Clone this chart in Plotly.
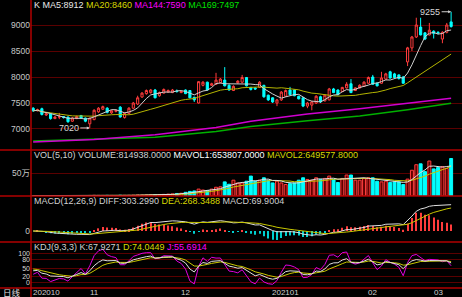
import plotly.graph_objects as go
from plotly.subplots import make_subplots
import pandas as pd

# ---------------- data ----------------
oct_days = [13, 14, 15, 16, 19, 20, 21, 22, 23, 26, 27, 28, 29, 30]
nov_days = [2, 3, 4, 5, 6, 9, 10, 11, 12, 13, 16, 17, 18, 19, 20, 23, 24, 25, 26, 27, 30]
dec_days = [1, 2, 3, 4, 7, 8, 9, 10, 11, 14, 15, 16, 17, 18, 21, 22, 23, 24, 25, 28, 29, 30, 31]
jan_days = [4, 5, 6, 7, 8, 11, 12, 13, 14, 15, 18, 19, 20, 21, 22, 25, 26, 27, 28, 29]
feb_days = [1, 2, 3, 4, 5, 8, 9, 10, 18, 19, 22, 23, 24, 25, 26]
mar_days = [1, 2, 3, 4]

opens = [7400, 7350, 7390, 7270, 7290, 7200, 7230, 7240, 7230, 7150,
         7200, 7260, 7210, 7100, 7180, 7330, 7380, 7400, 7310, 7340,
         7420, 7220, 7300, 7400, 7480, 7615, 7680, 7700, 7750, 7640,
         7690, 7710, 7700, 7730, 7700, 7750, 7740, 7610, 7500, 7840,
         7900, 7840, 7860, 7890, 7940, 7840, 7740, 7890, 7900, 7990,
         7800, 7790, 7800, 7840, 7650, 7600, 7500, 7560, 7630, 7750,
         7750, 7630, 7600, 7440, 7460, 7500, 7620, 7540, 7560, 7770,
         7750, 7720, 7790, 7870, 7740, 7790, 7820, 7880, 8000, 7880,
         7880, 7960, 8100, 8060, 8040, 8000, 8290, 8560, 8770, 8960,
         8850, 8810, 8880, 8860, 8730, 8860, 9060]
highs = [7420, 7390, 7410, 7310, 7300, 7250, 7310, 7250, 7240, 7230,
         7260, 7270, 7220, 7220, 7380, 7420, 7450, 7420, 7370, 7380,
         7440, 7320, 7420, 7520, 7640, 7710, 7760, 7770, 7770, 7720,
         7780, 7760, 7770, 7760, 7740, 7760, 7750, 7620, 7920, 7920,
         7910, 7890, 8080, 7980, 8190, 7860, 7840, 7940, 8040, 8000,
         7810, 7800, 7920, 7850, 7660, 7610, 7580, 7730, 7760, 7810,
         7760, 7640, 7610, 7520, 7540, 7650, 7640, 7670, 7790, 7790,
         7760, 7810, 7900, 7960, 7800, 7860, 7920, 8010, 8040, 7900,
         8100, 8080, 8120, 8080, 8050, 8020, 8580, 8790, 9140, 9140,
         8860, 9040, 8900, 8880, 8880, 9040, 9255]
lows = [7330, 7340, 7260, 7250, 7180, 7190, 7190, 7200, 7120, 7140,
        7190, 7200, 7130, 7020, 7170, 7310, 7370, 7300, 7290, 7320,
        7220, 7200, 7290, 7380, 7460, 7600, 7660, 7680, 7590, 7620,
        7680, 7700, 7690, 7700, 7690, 7670, 7590, 7520, 7490, 7820,
        7740, 7830, 7850, 7880, 7820, 7740, 7730, 7870, 7880, 7820,
        7740, 7750, 7790, 7600, 7540, 7500, 7440, 7540, 7620, 7650,
        7630, 7570, 7420, 7400, 7360, 7480, 7500, 7530, 7550, 7690,
        7650, 7710, 7780, 7690, 7730, 7780, 7810, 7870, 7850, 7820,
        7870, 7950, 7970, 7980, 7950, 7870, 8210, 8500, 8750, 8800,
        8710, 8800, 8740, 8820, 8650, 8840, 8950]
closes = [7350, 7370, 7280, 7290, 7200, 7230, 7235, 7220, 7140, 7210,
          7240, 7210, 7150, 7210, 7360, 7400, 7430, 7320, 7350, 7355,
          7230, 7300, 7400, 7500, 7600, 7690, 7740, 7750, 7600, 7700,
          7760, 7740, 7750, 7720, 7720, 7680, 7600, 7560, 7910, 7900,
          7750, 7870, 7940, 7960, 7830, 7750, 7820, 7920, 7990, 7830,
          7760, 7770, 7900, 7620, 7560, 7520, 7560, 7710, 7740, 7660,
          7640, 7580, 7440, 7500, 7520, 7630, 7520, 7650, 7770, 7700,
          7660, 7800, 7860, 7700, 7790, 7840, 7900, 7990, 7860, 7830,
          7980, 8060, 7980, 7990, 7970, 7880, 8560, 8770, 9000, 8810,
          8730, 8900, 8840, 8850, 8860, 9000, 8970]
volumes = [9000, 8000, 10000, 7000, 9000, 8000, 7000, 8000, 10000, 9000,
           8000, 9000, 10000, 12000, 15000, 13000, 12000, 14000, 12000, 11000,
           16000, 14000, 15000, 18000, 22000, 20000, 22000, 25000, 30000, 30000,
           35000, 40000, 45000, 55000, 60000, 80000, 100000, 110000, 150000, 130000,
           120000, 150000, 190000, 200000, 307000, 256000, 344000, 284000, 284000, 322000,
           433000, 322000, 344000, 396000, 344000, 284000, 322000, 284000, 249000, 270000,
           284000, 344000, 396000, 360000, 344000, 396000, 360000, 382000, 433000, 360000,
           293000, 382000, 456000, 456000, 344000, 344000, 382000, 396000, 396000, 322000,
           307000, 322000, 293000, 307000, 307000, 249000, 367000, 560000, 680000, 700000,
           530000, 760000, 589000, 618000, 640000, 600000, 814938]

# long moving averages (history not shown) read at a few dates
ma_long_idx = [0, 14, 28, 42, 50, 63, 75, 86, 96]
ma144_vals = [6750, 6800, 6890, 7030, 7150, 7290, 7390, 7490, 7590]
ma169_vals = [6770, 6800, 6840, 6950, 7050, 7160, 7250, 7370, 7497]

month_text = ["202010", "11", "12", "202101", "02", "03"]

# header texts as shown
hdr_main = [("K ", "#e8e8e8"), ("MA5:8912 ", "#e8e8e8"), ("MA20:8460 ", "#d8d800"),
            ("MA144:7590 ", "#ff00ff"), ("MA169:7497", "#00e000")]
hdr_vol = [("VOL(5,10) VOLUME:814938.0000 ", "#d0d0d0"), ("MAVOL1:653807.0000 ", "#ffffff"),
           ("MAVOL2:649577.8000", "#d8d800")]
hdr_macd = [("MACD(12,26,9) DIFF:303.2990 ", "#d0d0d0"), ("DEA:268.3488 ", "#d8d800"),
            ("MACD:69.9004", "#d0d0d0")]
hdr_kdj = [("KDJ(9,3,3) K:67.9271 ", "#d0d0d0"), ("D:74.0449 ", "#d8d800"),
           ("J:55.6914", "#ff00ff")]

# ---------------- derived series (standard indicator definitions) ----------------
n = len(closes)
x = list(range(n))
month_days = [oct_days, nov_days, dec_days, jan_days, feb_days, mar_days]
month_start = []
k0 = 0
for md in month_days:
    month_start.append(k0)
    k0 += len(md)

c = pd.Series(closes, dtype=float)
ma5 = c.rolling(5, min_periods=1).mean()
ma20 = c.rolling(20, min_periods=1).mean()
ema12 = c.ewm(span=12, adjust=False).mean()
ema26 = c.ewm(span=26, adjust=False).mean()
dif = ema12 - ema26
dea = dif.ewm(span=9, adjust=False).mean()
macd = 2 * (dif - dea)

vs = pd.Series(volumes, dtype=float)
mavol1 = vs.rolling(5, min_periods=1).mean()
mavol2 = vs.rolling(10, min_periods=1).mean()

llv = pd.Series(lows, dtype=float).rolling(9, min_periods=1).min()
hhv = pd.Series(highs, dtype=float).rolling(9, min_periods=1).max()
rsv = ((c - llv) / (hhv - llv) * 100).fillna(50)
K, D = [], []
kp, dp = 50.0, 50.0
for r in rsv:
    kp = (2 * kp + r) / 3
    dp = (2 * dp + kp) / 3
    K.append(kp)
    D.append(dp)
J = [3 * a - 2 * b for a, b in zip(K, D)]

RED = "#ff3c3c"
CYAN = "#00ffff"
WHITE = "#e0e0e0"
YEL = "#c8c800"

fig = make_subplots(rows=4, cols=1, shared_xaxes=True, vertical_spacing=0,
                    row_heights=[150, 46, 46, 46])

# main panel
fig.add_trace(go.Scatter(x=[x[i] for i in ma_long_idx], y=ma169_vals, mode="lines",
                         line=dict(color="#00b000", width=1.5), hoverinfo="skip"), 1, 1)
fig.add_trace(go.Scatter(x=[x[i] for i in ma_long_idx], y=ma144_vals, mode="lines",
                         line=dict(color="#d000d0", width=1.5), hoverinfo="skip"), 1, 1)
fig.add_trace(go.Scatter(x=x, y=ma20, mode="lines", line=dict(color="#b4b400", width=1),
                         hoverinfo="skip"), 1, 1)
fig.add_trace(go.Scatter(x=x, y=ma5, mode="lines", line=dict(color="#d0d0d0", width=1),
                         hoverinfo="skip"), 1, 1)
fig.add_trace(go.Candlestick(x=x, open=opens, high=highs, low=lows, close=closes,
                             increasing=dict(line=dict(color=RED, width=1), fillcolor="#000000"),
                             decreasing=dict(line=dict(color=CYAN, width=1), fillcolor=CYAN),
                             whiskerwidth=0), 1, 1)

# volume panel
up = [cl >= op for op, cl in zip(opens, closes)]
fig.add_trace(go.Bar(x=x, y=volumes, width=0.68,
                     marker=dict(color=["#600000" if u else CYAN for u in up],
                                 line=dict(color=[RED if u else CYAN for u in up], width=1))), 2, 1)
fig.add_trace(go.Scatter(x=x, y=mavol2, mode="lines", line=dict(color=YEL, width=1),
                         hoverinfo="skip"), 2, 1)
fig.add_trace(go.Scatter(x=x, y=mavol1, mode="lines", line=dict(color=WHITE, width=1),
                         hoverinfo="skip"), 2, 1)

# MACD panel
fig.add_trace(go.Bar(x=x, y=macd, width=0.25,
                     marker=dict(color=[RED if v >= 0 else "#00d0d0" for v in macd], line=dict(width=0))), 3, 1)
fig.add_trace(go.Scatter(x=x, y=dif, mode="lines", line=dict(color=WHITE, width=1),
                         hoverinfo="skip"), 3, 1)
fig.add_trace(go.Scatter(x=x, y=dea, mode="lines", line=dict(color=YEL, width=1),
                         hoverinfo="skip"), 3, 1)

# KDJ panel
fig.add_trace(go.Scatter(x=x, y=J, mode="lines", line=dict(color="#e000e0", width=1),
                         hoverinfo="skip"), 4, 1)
fig.add_trace(go.Scatter(x=x, y=D, mode="lines", line=dict(color=YEL, width=1),
                         hoverinfo="skip"), 4, 1)
fig.add_trace(go.Scatter(x=x, y=K, mode="lines", line=dict(color=WHITE, width=1),
                         hoverinfo="skip"), 4, 1)

FONT = "Arial, 'Liberation Sans', 'Noto Sans CJK SC', sans-serif"
GRID = "#5a0000"
SEP = "#b00000"

for r in range(1, 5):
    fig.update_xaxes(range=[-0.5, 98.5], showgrid=False, zeroline=False, showticklabels=False,
                     showline=False, ticks="", row=r, col=1)
fig.update_layout(xaxis_rangeslider_visible=False)

yfont = dict(family=FONT, size=8.5, color="#c8c8c8")
fig.update_yaxes(range=[6596, 9481], tickvals=[7000, 7500, 8000, 8500, 9000], showgrid=True,
                 gridcolor=GRID, gridwidth=1, zeroline=False, tickfont=yfont, ticks="", row=1, col=1)
fig.update_yaxes(range=[0, 1000000], tickvals=[500000], ticktext=["50万"], showgrid=True,
                 gridcolor=GRID, zeroline=False, tickfont=yfont, ticks="", row=2, col=1)
fig.update_yaxes(range=[-128, 408], tickvals=[0], showgrid=False, zeroline=False,
                 tickfont=yfont, ticks="", row=3, col=1)
fig.update_yaxes(range=[-20, 142], tickvals=[0, 20, 50, 80, 100], showgrid=True, gridcolor=GRID,
                 zeroline=False, tickfont=dict(family=FONT, size=7, color="#d8d8d8"), ticks="", row=4, col=1)

H = 288.0
W = 431.0


def py(pix):
    return (H - pix) / H


def px(pix):
    return (pix - 31) / W


def spans(parts):
    return "".join('<span style="color:%s">%s</span>' % (col, t.replace(" ", "&nbsp;")) for t, col in parts)


ann = []
for parts, ypix in [(hdr_main, 5), (hdr_vol, 155), (hdr_macd, 201), (hdr_kdj, 247)]:
    ann.append(dict(xref="paper", yref="paper", x=px(32), y=py(ypix), xanchor="left", yanchor="middle",
                    text=spans(parts), showarrow=False, font=dict(family=FONT, size=9, color="#d0d0d0")))

# month labels
for j, (idx, t) in enumerate(zip(month_start, month_text)):
    if j == 0:
        ann.append(dict(xref="paper", yref="paper", x=0.0, y=py(292.5), xanchor="left", yanchor="middle",
                        text=t, showarrow=False, font=dict(family=FONT, size=8, color="#d0d0d0")))
    else:
        ann.append(dict(xref="x4", yref="paper", x=x[idx], y=py(292.5), xanchor="center", yanchor="middle",
                        text=t, showarrow=False, font=dict(family=FONT, size=8, color="#d0d0d0")))
ann.append(dict(xref="paper", yref="paper", x=px(2), y=py(292), xanchor="left", yanchor="middle",
                text="日线", showarrow=False, borderpad=0,
                font=dict(family="'Noto Sans CJK SC', sans-serif", size=8.5, color="#e0e0e0")))

# extreme value markers
lo_i = lows.index(min(lows))
hi_i = highs.index(max(highs))
ann.append(dict(xref="x", yref="y", x=x[lo_i], y=lows[lo_i], text=str(min(lows)), showarrow=True,
                arrowhead=2, arrowsize=0.6, arrowwidth=1, arrowcolor="#d0d0d0", ax=-21, ay=0,
                font=dict(family=FONT, size=9, color="#d8d8d8")))
ann.append(dict(xref="x", yref="y", x=x[hi_i], y=highs[hi_i], text=str(max(highs)), showarrow=True,
                arrowhead=2, arrowsize=0.6, arrowwidth=1, arrowcolor="#d0d0d0", ax=-21, ay=0,
                font=dict(family=FONT, size=9, color="#d8d8d8")))

shapes = []
for ypix in [150, 196, 242, 288]:
    shapes.append(dict(type="line", xref="paper", yref="paper", x0=px(0), x1=1, y0=py(ypix), y1=py(ypix),
                       line=dict(color=SEP, width=1.5), layer="above"))
shapes.append(dict(type="line", xref="paper", yref="paper", x0=0, x1=0, y0=py(0), y1=py(297),
                   line=dict(color=SEP, width=1.5), layer="above"))

fig.update_layout(width=462, height=297, margin=dict(l=31, r=0, t=0, b=9),
                  paper_bgcolor="#000000", plot_bgcolor="#000000", showlegend=False,
                  bargap=0.3, annotations=ann, shapes=shapes, font=dict(family=FONT))

fig.write_html("out.html")
